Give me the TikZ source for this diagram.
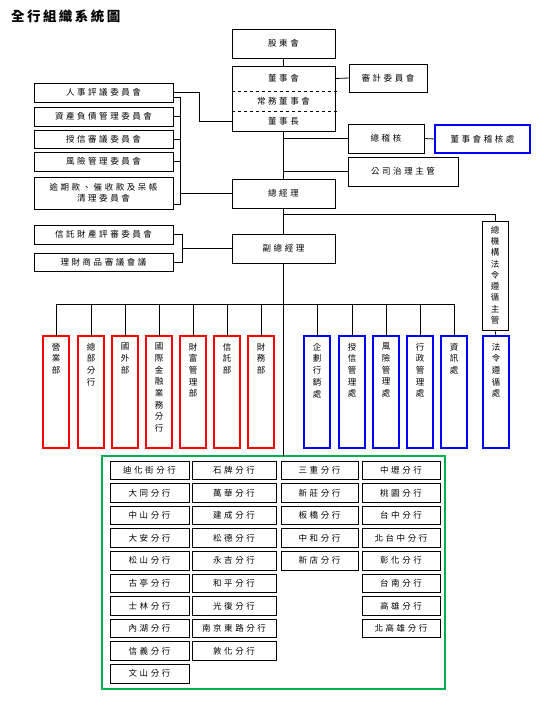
\documentclass[tikz,border=0pt]{standalone}
\usepackage{fontspec}
\newfontfamily\cjk[LetterSpace=30]{Noto Sans CJK TC}
\newfontfamily\cjkv{Noto Sans CJK TC}
\newfontfamily\cjkt[LetterSpace=18]{Noto Sans CJK TC}
\usetikzlibrary{calc}
\definecolor{grn}{RGB}{0,176,80}
\newcommand\mybox[7]{\node[#7,minimum width={((#4)-(#2))*1pt},minimum height={((#5)-(#3))*1pt}] (#1) at ({((#2)+(#4))/2},{((#3)+(#5))/2}) {#6};}
\newcommand\vt[3]{\parbox[c][#1pt][t]{14pt}{\centering\cjkv\fontsize{8.5}{#2}\selectfont #3}}
\tikzset{
  box/.style={draw, line width=0.8pt, inner sep=0pt, outer sep=0pt, align=center, font={\cjk\fontsize{8.5}{11}\selectfont}},
  txt/.style={inner sep=0pt, outer sep=0pt, font={\cjk\fontsize{8.5}{11}\selectfont}},
  redbox/.style={box, draw=red, line width=1.8pt},
  bluebox/.style={box, draw=blue, line width=1.8pt},
  grnbox/.style={draw=grn, line width=1.8pt, inner sep=0pt, outer sep=0pt},
  ln/.style={line width=0.8pt}
}
\begin{document}
\begin{tikzpicture}[x=1pt,y=-1pt]
\useasboundingbox (0,0) rectangle (543,711);
\node[anchor=west, inner sep=0pt, font={\cjkt\bfseries\fontsize{13.5}{15}\selectfont}] (title) at (11,16) {全行組織系統圖};
% top chain
\mybox{sh}{232}{29}{335}{58}{股東會}{box}
\mybox{bd}{232}{66}{335}{131}{}{box}
\mybox{bd1}{232}{66}{335}{91}{董事會}{txt}
\mybox{bd2}{232}{91}{335}{111}{常務董事會}{txt}
\mybox{bd3}{232}{111}{335}{131}{董事長}{txt}
\draw[ln,dashed] (bd1.south west) -- ([xshift=2pt]bd1.south east);
\draw[ln,dashed] (bd2.south west) -- ([xshift=2pt]bd2.south east);
\mybox{audit}{349}{64}{427}{92}{審計委員會}{box}
\mybox{ga}{348}{124}{424}{153}{總稽核}{box}
\mybox{bak}{435}{125}{530}{153}{董事會稽核處}{bluebox}
\mybox{cg}{348}{157}{458}{186}{公司治理主管}{box}
\mybox{gm}{232}{179}{335}{208}{總經理}{box}
\mybox{vp}{232}{234}{335}{263}{副總經理}{box}
% left committees
\mybox{c1}{34}{83}{173}{102}{人事評議委員會}{box}
\mybox{c2}{34}{107}{173}{126}{資產負債管理委員會}{box}
\mybox{c3}{34}{130}{173}{148}{授信審議委員會}{box}
\mybox{c4}{34}{152}{173}{171}{風險管理委員會}{box}
\mybox{c5}{34}{177}{173}{209}{逾期款、催收款及呆帳\\清理委員會}{box}
\mybox{t1}{34}{225}{173}{244}{信託財產評審委員會}{box}
\mybox{t2}{34}{253}{173}{271}{理財商品審議會議}{box}
% compliance
\mybox{lawmgr}{482}{221}{508}{330}{\vt{99}{11.3}{總\\機\\構\\法\\令\\遵\\循\\主\\管}}{box}
\mybox{lawdept}{483}{336}{509}{448}{\vt{98}{11.7}{法\\令\\遵\\循\\處}}{bluebox}
% departments
\mybox{r1}{43}{336}{69}{448}{\vt{98}{11.7}{營\\業\\部}}{redbox}
\mybox{r2}{78}{336}{104}{448}{\vt{98}{11.7}{總\\部\\分\\行}}{redbox}
\mybox{r3}{112}{336}{138}{448}{\vt{98}{11.7}{國\\外\\部}}{redbox}
\mybox{r4}{146}{336}{172}{448}{\vt{98}{11.7}{國\\際\\金\\融\\業\\務\\分\\行}}{redbox}
\mybox{r5}{180}{336}{206}{448}{\vt{98}{11.7}{財\\富\\管\\理\\部}}{redbox}
\mybox{r6}{214}{336}{240}{448}{\vt{98}{11.7}{信\\託\\部}}{redbox}
\mybox{r7}{248}{336}{274}{448}{\vt{98}{11.7}{財\\務\\部}}{redbox}
\mybox{u1}{304}{336}{330}{448}{\vt{98}{11.7}{企\\劃\\行\\銷\\處}}{bluebox}
\mybox{u2}{339}{336}{365}{448}{\vt{98}{11.7}{授\\信\\管\\理\\處}}{bluebox}
\mybox{u3}{373}{336}{399}{448}{\vt{98}{11.7}{風\\險\\管\\理\\處}}{bluebox}
\mybox{u4}{407}{336}{433}{448}{\vt{98}{11.7}{行\\政\\管\\理\\處}}{bluebox}
\mybox{u5}{441}{336}{467}{448}{\vt{98}{11.7}{資\\訊\\處}}{bluebox}
% branches
\mybox{grn}{102}{456}{445}{689}{}{grnbox}
\foreach \t [count=\i from 0] in {迪化街分行,大同分行,中山分行,大安分行,松山分行,古亭分行,士林分行,內湖分行,信義分行,文山分行}
  {\mybox{a\i}{110}{461+22.6*\i}{189}{479.5+22.6*\i}{\t}{box}}
\foreach \t [count=\i from 0] in {石牌分行,萬華分行,建成分行,松德分行,永吉分行,和平分行,光復分行,南京東路分行,敦化分行}
  {\mybox{b\i}{192}{461+22.6*\i}{276}{479.5+22.6*\i}{\t}{box}}
\foreach \t [count=\i from 0] in {三重分行,新莊分行,板橋分行,中和分行,新店分行}
  {\mybox{e\i}{281}{461+22.6*\i}{358}{479.5+22.6*\i}{\t}{box}}
\foreach \t [count=\i from 0] in {中壢分行,桃園分行,台中分行,北台中分行,彰化分行,台南分行,高雄分行,北高雄分行}
  {\mybox{f\i}{362}{461+22.6*\i}{440}{479.5+22.6*\i}{\t}{box}}
% connectors
\draw[ln] (sh.south) -- (bd.north);
\draw[ln] (bd.south) -- (gm.north);
\draw[ln] (gm.south) -- (vp.north);
\draw[ln] (vp.south) -- (vp.south |- grn.north);
\draw[ln] (bd1.east) -- (audit.west);
\draw[ln] (ga.west) -- (ga.west -| bd.south);
\draw[ln] (ga.east) -- (bak.west);
\draw[ln] (cg.west) -- (cg.west -| bd.south);
\coordinate (j1) at (0,214);
\draw[ln] (gm.south |- j1) -| (lawmgr.north);
\draw[ln] (lawmgr.south) -- (lawdept.north);
\draw[ln] (c1.east) -- ++(26,0) |- (bd3.west);
\coordinate (k1) at (180,0);
\foreach \n in {c2,c3,c4} \draw[ln] (\n.east) -- (\n.east -| k1);
\draw[ln] ([yshift=5pt]c1.south east) -- ([yshift=5pt]c1.south east -| k1) -- ([yshift=5pt]c5.south east -| k1) -- ([yshift=5pt]c5.south east);
\draw[ln] (gm.west) -- (gm.west -| k1);
\coordinate (k2) at (182,0);
\draw[ln] (t1.east) -- (t1.east -| k2) -- (t2.east -| k2) -- (t2.east);
\draw[ln] (vp.west) -- (vp.west -| k2);
\coordinate (bus) at (0,304);
\draw[ln] (r1.north |- bus) -- (u5.north |- bus);
\foreach \n in {r1,r2,r3,r4,r5,r6,r7,u1,u2,u3,u4,u5} \draw[ln] (\n.north) -- (\n.north |- bus);
\end{tikzpicture}
\end{document}
